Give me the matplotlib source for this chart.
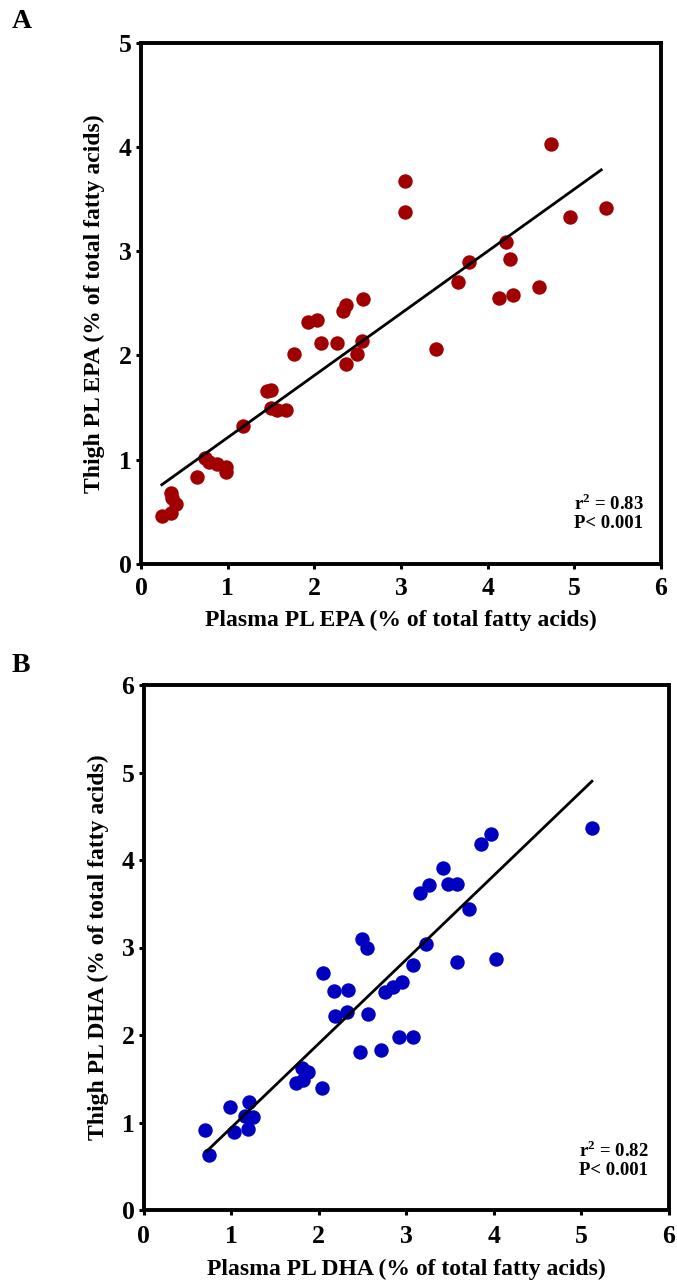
import matplotlib
matplotlib.use("Agg")
import matplotlib.pyplot as plt
import numpy as np

# ---------------- Panel A: EPA ----------------
epa_plasma = [4.73, 3.05, 3.05, 4.95, 5.37, 4.21, 3.78, 4.26, 3.66, 4.13,
              4.29, 4.59, 2.56, 2.36, 2.33, 2.03, 1.93, 2.08, 2.26, 2.55,
              2.49, 2.37, 1.76, 3.40, 1.45, 1.50, 1.50, 1.57, 1.67, 1.18,
              0.74, 0.78, 0.88, 0.98, 0.98, 0.65, 0.35, 0.36, 0.40, 0.35, 0.24]
epa_thigh = [4.03, 3.67, 3.38, 3.33, 3.41, 3.09, 2.90, 2.93, 2.70, 2.55,
             2.58, 2.66, 2.54, 2.48, 2.43, 2.34, 2.32, 2.12, 2.12, 2.14,
             2.01, 1.92, 2.01, 2.06, 1.66, 1.67, 1.50, 1.48, 1.48, 1.32,
             1.02, 0.98, 0.96, 0.93, 0.88, 0.83, 0.68, 0.63, 0.58, 0.49, 0.46]
epa_fit_x = [0.24, 5.31]
epa_fit_y = [0.76, 3.78]
epa_stats = "r$^{\\mathbf{2}}$ = 0.83\nP< 0.001"

# ---------------- Panel B: DHA ----------------
dha_plasma = [5.12, 3.97, 3.85, 3.42, 3.26, 3.16, 3.48, 3.58, 3.72, 2.49,
              2.55, 3.23, 3.08, 3.58, 4.02, 2.05, 2.18, 2.33, 2.76, 2.85,
              2.95, 2.19, 2.32, 2.56, 2.47, 2.71, 2.92, 3.08, 1.81, 1.88,
              1.74, 1.82, 2.04, 0.99, 1.20, 1.16, 1.25, 1.03, 1.19, 0.70, 0.75]
dha_thigh = [4.37, 4.30, 4.18, 3.91, 3.71, 3.62, 3.73, 3.73, 3.44, 3.10,
             3.00, 3.04, 2.80, 2.83, 2.87, 2.71, 2.50, 2.51, 2.49, 2.55,
             2.61, 2.22, 2.26, 2.24, 1.81, 1.83, 1.98, 1.98, 1.62, 1.58,
             1.45, 1.49, 1.40, 1.18, 1.23, 1.07, 1.06, 0.89, 0.93, 0.92, 0.63]
dha_fit_x = [0.72, 5.12]
dha_fit_y = [0.67, 4.90]
dha_stats = "r$^{\\mathbf{2}}$ = 0.82\nP< 0.001"

plt.rcParams['font.family'] = ['Liberation Serif', 'DejaVu Serif']
plt.rcParams['font.weight'] = 'bold'
plt.rcParams['mathtext.fontset'] = 'custom'
plt.rcParams['mathtext.rm'] = 'Liberation Serif:bold'
plt.rcParams['mathtext.bf'] = 'Liberation Serif:bold'

W, H = 677, 1286
fig = plt.figure(figsize=(W / 100, H / 100), dpi=100)


def px_axes(l, r, t, b):
    return fig.add_axes([l / W, 1 - b / H, (r - l) / W, (b - t) / H])


def style(ax, xmax, ymax, xpad):
    ax.set_xlim(0, xmax)
    ax.set_ylim(0, ymax)
    ax.set_xticks(range(0, xmax + 1))
    ax.set_yticks(range(0, ymax + 1))
    for s in ax.spines.values():
        s.set_linewidth(2.8)
    ax.tick_params(direction='out', length=3.5, width=2.2, labelsize=18.5, pad=3)
    ax.tick_params(axis='x', pad=xpad)
    for lab in ax.get_xticklabels() + ax.get_yticklabels():
        lab.set_fontweight('bold')


axA = px_axes(141, 661, 42.7, 564)
axA.scatter(epa_plasma, epa_thigh, s=108, color='#A00000', linewidths=0, zorder=3, clip_on=False)
axA.plot(epa_fit_x, epa_fit_y, color='black', lw=2.0, zorder=4)
style(axA, 6, 5, 6)
axA.set_xlabel("Plasma PL EPA (% of total fatty acids)", fontsize=17, fontweight='bold', labelpad=7)
axA.set_ylabel("Thigh PL EPA (% of total fatty acids)", fontsize=17, fontweight='bold', labelpad=10)
axA.text(0.832, 0.136, epa_stats, transform=axA.transAxes, fontsize=13.5, fontweight='bold',
         ha='left', va='top', linespacing=1.1)

axB = px_axes(143.5, 669, 685, 1210)
axB.scatter(dha_plasma, dha_thigh, s=108, color='#0000C0', linewidths=0, zorder=3, clip_on=False)
axB.plot(dha_fit_x, dha_fit_y, color='black', lw=2.0, zorder=4)
style(axB, 6, 6, 7)
axB.set_xlabel("Plasma PL DHA (% of total fatty acids)", fontsize=17, fontweight='bold', labelpad=8)
axB.set_ylabel("Thigh PL DHA (% of total fatty acids)", fontsize=17, fontweight='bold', labelpad=9)
axB.text(0.828, 0.133, dha_stats, transform=axB.transAxes, fontsize=13.5, fontweight='bold',
         ha='left', va='top', linespacing=1.1)

fig.text(12 / W, 1 - 22 / H, "A", fontsize=20, fontweight='bold', va='center', ha='left')
fig.text(12 / W, 1 - 665 / H, "B", fontsize=20, fontweight='bold', va='center', ha='left')

fig.savefig("out.png", dpi=100)
